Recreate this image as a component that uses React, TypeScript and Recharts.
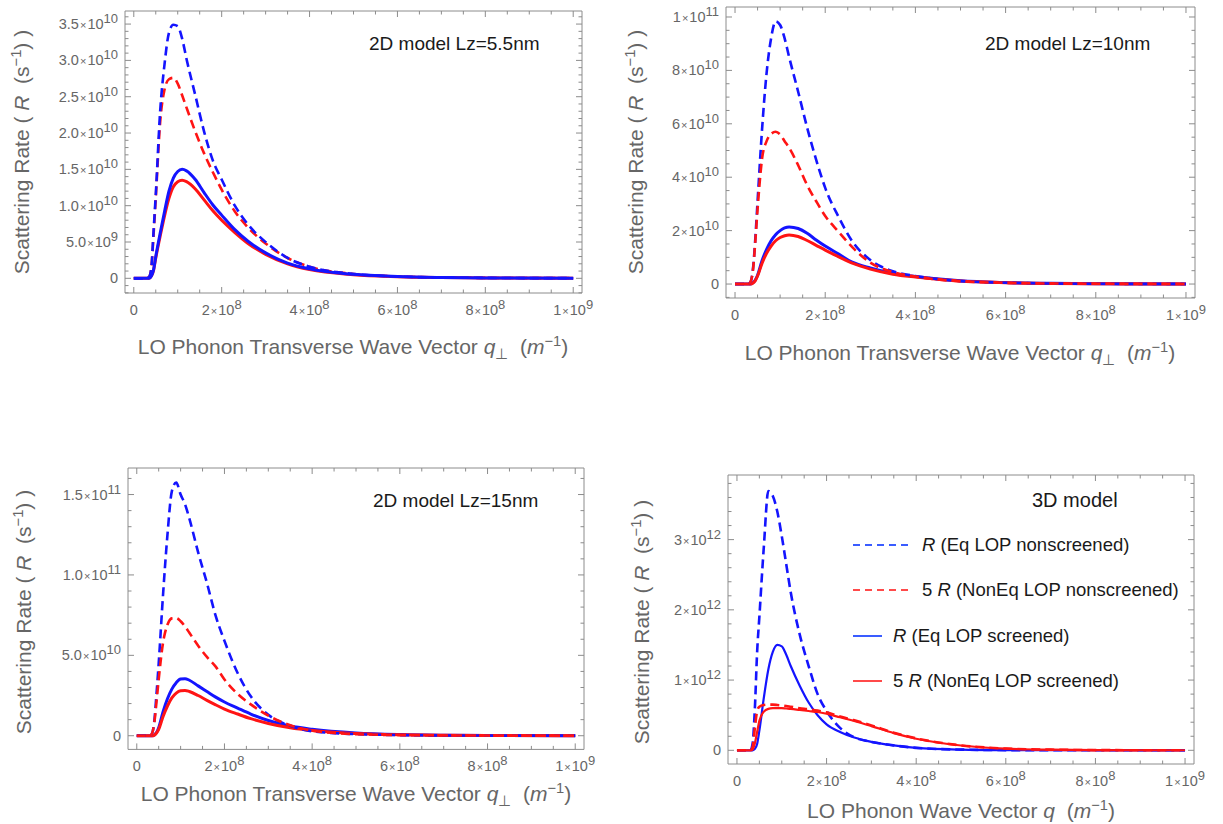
import React from "react";
import { LineChart, Line, XAxis, YAxis, Legend } from "recharts";

// wave vector grid, in units of 1e8 m^-1
const q = [0, 0.3, 0.35, 0.4, 0.45, 0.5, 0.6, 0.7, 0.8, 0.9, 1.0, 1.1, 1.2, 1.4, 1.6, 1.8, 2.0, 2.3, 2.6, 3.0, 3.5, 4.0, 5.0, 6.0, 7.0, 8.0, 10.0];

// 2D model Lz=5.5nm (x 1e10 s^-1)
const bd1 = [0, 0, 0.02, 0.15, 0.65, 1.15, 2.3, 2.95, 3.38, 3.49, 3.47, 3.3, 3.02, 2.52, 2.02, 1.62, 1.36, 1.0, 0.74, 0.5, 0.28, 0.16, 0.06, 0.025, 0.012, 0.006, 0.002];
const rd1 = [0, 0, 0.02, 0.15, 0.6, 1.1, 2.15, 2.6, 2.74, 2.76, 2.68, 2.52, 2.35, 2.02, 1.72, 1.46, 1.22, 0.92, 0.7, 0.48, 0.28, 0.16, 0.06, 0.025, 0.012, 0.006, 0.002];
const bs1 = [0, 0, 0, 0.03, 0.12, 0.3, 0.62, 0.92, 1.2, 1.38, 1.47, 1.5, 1.48, 1.36, 1.18, 1.01, 0.87, 0.67, 0.51, 0.35, 0.21, 0.13, 0.055, 0.025, 0.012, 0.006, 0.002];
const rs1 = [0, 0, 0, 0.03, 0.11, 0.28, 0.58, 0.86, 1.1, 1.26, 1.33, 1.35, 1.33, 1.23, 1.08, 0.93, 0.8, 0.63, 0.48, 0.33, 0.2, 0.12, 0.05, 0.023, 0.011, 0.005, 0.002];

// 2D model Lz=10nm (x 1e10 s^-1)
const bd2 = [0, 0, 0.1, 0.6, 1.7, 3.1, 5.8, 7.9, 9.2, 9.84, 9.7, 9.2, 8.5, 7.2, 5.85, 4.65, 3.6, 2.5, 1.6, 0.9, 0.48, 0.3, 0.11, 0.05, 0.02, 0.01, 0.004];
const rd2 = [0, 0, 0.1, 0.55, 1.6, 2.8, 4.7, 5.35, 5.62, 5.7, 5.6, 5.35, 5.1, 4.45, 3.7, 3.1, 2.55, 1.95, 1.38, 0.8, 0.45, 0.28, 0.1, 0.045, 0.02, 0.01, 0.004];
const bs2 = [0, 0, 0, 0.05, 0.15, 0.33, 0.88, 1.3, 1.62, 1.85, 2.0, 2.1, 2.14, 2.08, 1.9, 1.65, 1.42, 1.12, 0.82, 0.6, 0.4, 0.28, 0.12, 0.055, 0.025, 0.012, 0.004];
const rs2 = [0, 0, 0, 0.04, 0.13, 0.3, 0.78, 1.15, 1.42, 1.62, 1.74, 1.81, 1.84, 1.78, 1.63, 1.45, 1.27, 1.02, 0.78, 0.56, 0.37, 0.26, 0.11, 0.05, 0.023, 0.011, 0.004];

// 2D model Lz=15nm (x 1e10 s^-1)
const bd3 = [0, 0, 0.15, 0.9, 2.6, 4.5, 8.8, 12.5, 15.2, 15.75, 15.0, 14.4, 13.5, 11.4, 9.5, 7.45, 5.9, 3.9, 2.45, 1.3, 0.62, 0.28, 0.1, 0.04, 0.02, 0.01, 0.004];
const rd3 = [0, 0, 0.15, 0.8, 2.1, 3.5, 5.8, 6.9, 7.3, 7.32, 7.12, 6.8, 6.4, 5.6, 4.9, 4.3, 3.5, 2.6, 1.95, 1.25, 0.65, 0.32, 0.1, 0.04, 0.02, 0.01, 0.004];
const bs3 = [0, 0, 0, 0.05, 0.2, 0.5, 1.5, 2.3, 2.9, 3.3, 3.53, 3.55, 3.45, 3.1, 2.75, 2.4, 2.1, 1.72, 1.35, 0.95, 0.6, 0.4, 0.17, 0.07, 0.03, 0.015, 0.005];
const rs3 = [0, 0, 0, 0.04, 0.17, 0.4, 1.2, 1.85, 2.35, 2.65, 2.8, 2.82, 2.75, 2.5, 2.2, 1.92, 1.66, 1.35, 1.06, 0.76, 0.49, 0.32, 0.14, 0.06, 0.027, 0.013, 0.004];

// 3D model (x 1e11 s^-1)
const bd4 = [0, 0, 1, 6, 14, 19, 29, 36.9, 36.2, 34, 30.5, 26.5, 22.5, 16.5, 12, 8.0, 5.6, 3.2, 1.9, 1.2, 0.7, 0.35, 0.1, 0.03, 0.01, 0.005, 0.002];
const rd4 = [0, 0, 0.5, 3.2, 5.6, 6.2, 6.45, 6.5, 6.5, 6.45, 6.38, 6.3, 6.2, 6.0, 5.85, 5.65, 5.4, 4.8, 4.3, 3.55, 2.5, 1.7, 0.7, 0.25, 0.09, 0.03, 0.005];
const bs4 = [0, 0, 0, 0.2, 0.9, 2.8, 7.5, 11.5, 14.0, 15.0, 14.8, 13.6, 12.0, 9.2, 6.8, 5.0, 3.7, 2.6, 1.85, 1.2, 0.7, 0.35, 0.1, 0.03, 0.01, 0.005, 0.002];
const rs4 = [0, 0, 0.1, 1.0, 2.6, 4.2, 5.5, 5.9, 6.0, 6.02, 6.0, 5.95, 5.9, 5.75, 5.6, 5.45, 5.2, 4.7, 4.2, 3.45, 2.45, 1.65, 0.68, 0.24, 0.09, 0.03, 0.005];

const xTicks = [0, 2e8, 4e8, 6e8, 8e8, 1e9];
const xLabels = ["0", "2×10^8", "4×10^8", "6×10^8", "8×10^8", "1×10^9"];

const y1Ticks = [0, 5e9, 1e10, 1.5e10, 2e10, 2.5e10, 3e10, 3.5e10];
const y1Labels = ["0", "5.0×10^9", "1.0×10^10", "1.5×10^10", "2.0×10^10", "2.5×10^10", "3.0×10^10", "3.5×10^10"];
const y2Ticks = [0, 2e10, 4e10, 6e10, 8e10, 1e11];
const y2Labels = ["0", "2×10^10", "4×10^10", "6×10^10", "8×10^10", "1×10^11"];
const y3Ticks = [0, 5e10, 1e11, 1.5e11];
const y3Labels = ["0", "5.0×10^10", "1.0×10^11", "1.5×10^11"];
const y4Ticks = [0, 1e12, 2e12, 3e12];
const y4Labels = ["0", "1×10^12", "2×10^12", "3×10^12"];

const legendNames = ["R (Eq LOP nonscreened)", "5 R (NonEq LOP nonscreened)", "R (Eq LOP screened)", "5 R (NonEq LOP screened)"];

const FONT = '"Liberation Sans", Arial, Helvetica, sans-serif';
const GRAY = "#666666";
const FRAME = "#8c8c8c";
const BLUE = "#1414ff";
const RED = "#ff1414";
const X_DOMAIN = [-2e7, 1.02e9];

const seriesStyle: Record<string, { color: string; dashed: boolean }> = {
  bd: { color: BLUE, dashed: true },
  rd: { color: RED, dashed: true },
  bs: { color: BLUE, dashed: false },
  rs: { color: RED, dashed: false },
};

const legendStyle = [
  { color: "#3a5cff", dashed: true },
  { color: "#ff4a4a", dashed: true },
  { color: "#3a5cff", dashed: false },
  { color: "#ff4a4a", dashed: false },
];

const buildRows = (unit: number, bd: number[], rd: number[], bs: number[], rs: number[]) =>
  q.map((v, i) => ({ q: v * 1e8, bd: bd[i] * unit, rd: rd[i] * unit, bs: bs[i] * unit, rs: rs[i] * unit }));

// all tick positions (major + minor) inside the frame
const allTicks = (step: number, lo: number, hi: number) => {
  const out: number[] = [];
  for (let k = Math.ceil(lo / step); k <= Math.floor(hi / step); k++) out.push(k * step);
  return out;
};

const SciText = ({ x, y, anchor, label }: any) => {
  const m = label.match(/^(.+)×(\d+)\^(\d+)$/);
  const common = { x, y, textAnchor: anchor, fill: GRAY, fontSize: 14.5, fontFamily: FONT };
  if (!m) return <text {...common}>{label}</text>;
  return (
    <text {...common}>
      <tspan>{m[1]}</tspan>
      <tspan fontSize={11} dx={1}>×</tspan>
      <tspan dx={1}>{m[2]}</tspan>
      <tspan fontSize={13} dy={-6}>{m[3]}</tspan>
    </text>
  );
};

const tickRenderer = (side: string, majors: number[], labels: string[] | null, step: number) => (props: any) => {
  const { x, y, payload } = props;
  const v = payload.value;
  const idx = majors.findIndex((m) => Math.abs(m - v) < step * 0.01);
  const len = idx >= 0 ? 6 : 3.5;
  let x2 = x;
  let y2 = y;
  if (side === "left") x2 = x + len;
  if (side === "right") x2 = x - len;
  if (side === "bottom") y2 = y - len;
  if (side === "top") y2 = y + len;
  return (
    <g>
      <line x1={x} y1={y} x2={x2} y2={y2} stroke={FRAME} strokeWidth={1} />
      {labels && idx >= 0 && side === "left" && <SciText x={x - 7} y={y + 5} anchor="end" label={labels[idx]} />}
      {labels && idx >= 0 && side === "bottom" && <SciText x={x} y={y + 22} anchor="middle" label={labels[idx]} />}
    </g>
  );
};

const LegendBox = () => (
  <div style={{ fontFamily: FONT, fontSize: 18.5, color: "#1a1a1a" }}>
    {legendNames.map((name, i) => {
      const st = legendStyle[i];
      const lineW = st.dashed ? 55 : 29;
      const parts = name.split(/\bR\b/);
      return (
        <div key={name} style={{ height: 45.5, display: "flex", alignItems: "center", whiteSpace: "nowrap" }}>
          <svg width={lineW} height={4} style={{ marginRight: st.dashed ? 14 : 11 }}>
            <line x1={0} y1={2} x2={lineW} y2={2} stroke={st.color} strokeWidth={2} strokeDasharray={st.dashed ? "7 5" : undefined} />
          </svg>
          <span>
            {parts[0]}
            <i>R</i>
            {parts[1]}
          </span>
        </div>
      );
    })}
  </div>
);

const transverseTitle = (
  <>
    LO Phonon Transverse Wave Vector <i>q</i>
    <span style={{ fontSize: "0.7em", position: "relative", top: "0.35em" }}>⊥</span>
    {"\u00a0\u00a0"}(<i>m</i>
    <span style={{ fontSize: "0.7em", position: "relative", top: "-0.55em" }}>−1</span>)
  </>
);
const waveTitle = (
  <>
    LO Phonon Wave Vector <i>q</i>
    {"\u00a0\u00a0"}(<i>m</i>
    <span style={{ fontSize: "0.7em", position: "relative", top: "-0.55em" }}>−1</span>)
  </>
);
const rateTitle = (
  <>
    Scattering Rate ( <i>R</i>
    {"\u00a0\u00a0"}(s<span style={{ fontSize: "0.7em", position: "relative", top: "-0.55em" }}>−1</span>) )
  </>
);

type PanelProps = {
  left: number;
  top: number;
  width: number;
  height: number;
  leftW: number;
  rightW: number;
  topH: number;
  bottomH: number;
  data: any[];
  yDomain: number[];
  yTicks: number[];
  yLabels: string[];
  yStep: number;
  order: string[];
  solidW: number;
  dashW: number;
  note: string;
  noteX: number;
  noteY: number;
  noteSize: number;
  xTitle: React.ReactNode;
  xTitleX: number;
  xTitleY: number;
  yTitleX: number;
  yTitleY: number;
  legend?: boolean;
};

const Panel = (p: PanelProps) => {
  const xAll = allTicks(5e7, X_DOMAIN[0], X_DOMAIN[1]);
  const yAll = allTicks(p.yStep, p.yDomain[0], p.yDomain[1]);
  const axisCommon = { tickSize: 0, tickMargin: 0, tickLine: false, interval: 0 as const, allowDataOverflow: true, axisLine: { stroke: FRAME } };
  return (
    <div style={{ position: "absolute", left: p.left, top: p.top, width: p.width, height: p.height }}>
      <LineChart width={p.width} height={p.height} data={p.data} margin={{ top: 0, right: 0, bottom: 0, left: 0 }}>
        <XAxis dataKey="q" type="number" domain={X_DOMAIN} ticks={xAll} height={p.bottomH} tick={tickRenderer("bottom", xTicks, xLabels, 5e7)} {...axisCommon} />
        <XAxis xAxisId="t" orientation="top" dataKey="q" type="number" domain={X_DOMAIN} ticks={xAll} height={p.topH} tick={tickRenderer("top", xTicks, null, 5e7)} {...axisCommon} />
        <YAxis type="number" domain={p.yDomain} ticks={yAll} width={p.leftW} tick={tickRenderer("left", p.yTicks, p.yLabels, p.yStep)} {...axisCommon} />
        <YAxis yAxisId="r" orientation="right" type="number" domain={p.yDomain} ticks={yAll} width={p.rightW} tick={tickRenderer("right", p.yTicks, null, p.yStep)} {...axisCommon} />
        {p.order.map((k) => (
          <Line
            key={k}
            dataKey={k}
            type="monotone"
            stroke={seriesStyle[k].color}
            strokeWidth={seriesStyle[k].dashed ? p.dashW : p.solidW}
            strokeDasharray={seriesStyle[k].dashed ? "9 5" : undefined}
            dot={false}
            activeDot={false}
            isAnimationActive={false}
          />
        ))}
        {p.legend && (
          <Legend
            layout="vertical"
            align="center"
            verticalAlign="middle"
            content={() => <LegendBox />}
            wrapperStyle={{ left: 243, top: 62, width: 360, height: 182 }}
          />
        )}
      </LineChart>
      <div style={{ position: "absolute", left: p.noteX, top: p.noteY, transform: "translateY(-50%)", fontFamily: FONT, fontSize: p.noteSize, color: "#1a1a1a", whiteSpace: "nowrap", lineHeight: 1 }}>
        {p.note}
      </div>
      <div style={{ position: "absolute", left: p.xTitleX, top: p.xTitleY, transform: "translate(-50%, -50%)", fontFamily: FONT, fontSize: 21, color: GRAY, whiteSpace: "nowrap", lineHeight: 1 }}>
        {p.xTitle}
      </div>
      <div style={{ position: "absolute", left: p.yTitleX, top: p.yTitleY, transform: "translate(-50%, -50%) rotate(-90deg)", fontFamily: FONT, fontSize: 21, color: GRAY, whiteSpace: "nowrap", lineHeight: 1 }}>
        {rateTitle}
      </div>
    </div>
  );
};

const App = () => {
  return (
    <div style={{ position: "absolute", left: 0, top: 0, width: 1223, height: 824, background: "#fff", overflow: "hidden" }}>
      <Panel
        left={0} top={0} width={600} height={360}
        leftW={125} rightW={18} topH={11} bottomH={67}
        data={buildRows(1e10, bd1, rd1, bs1, rs1)}
        yDomain={[-2.02e9, 3.68e10]} yTicks={y1Ticks} yLabels={y1Labels} yStep={1e9}
        order={["rd", "rs", "bd", "bs"]} solidW={3} dashW={2.6}
        note="2D model Lz=5.5nm" noteX={369} noteY={43} noteSize={19}
        xTitle={transverseTitle} xTitleX={353} xTitleY={346}
        yTitleX={21} yTitleY={152}
      />
      <Panel
        left={610} top={0} width={613} height={360}
        leftW={116} rightW={28} topH={7} bottomH={62}
        data={buildRows(1e10, bd2, rd2, bs2, rs2)}
        yDomain={[-5.23e9, 1.0374e11]} yTicks={y2Ticks} yLabels={y2Labels} yStep={5e9}
        order={["bs", "rs", "bd", "rd"]} solidW={3} dashW={2.6}
        note="2D model Lz=10nm" noteX={375} noteY={43} noteSize={19}
        xTitle={transverseTitle} xTitleX={350} xTitleY={352}
        yTitleX={25} yTitleY={152}
      />
      <Panel
        left={0} top={460} width={600} height={364}
        leftW={128} rightW={16} topH={8} bottomH={74.6}
        data={buildRows(1e10, bd3, rd3, bs3, rs3)}
        yDomain={[-8.5e9, 1.665e11]} yTicks={y3Ticks} yLabels={y3Labels} yStep={1e10}
        order={["bs", "rs", "bd", "rd"]} solidW={3} dashW={2.6}
        note="2D model Lz=15nm" noteX={373} noteY={40} noteSize={19}
        xTitle={transverseTitle} xTitleX={356} xTitleY={333}
        yTitleX={23} yTitleY={152}
      />
      <Panel
        left={610} top={460} width={613} height={364}
        leftW={118} rightW={29} topH={15} bottomH={60}
        data={buildRows(1e11, bd4, rd4, bs4, rs4)}
        yDomain={[-1.95e11, 3.92e12]} yTicks={y4Ticks} yLabels={y4Labels} yStep={2e11}
        order={["bd", "bs", "rd", "rs"]} solidW={2.2} dashW={2.6}
        note="3D model" noteX={422} noteY={40} noteSize={20}
        xTitle={waveTitle} xTitleX={351} xTitleY={350}
        yTitleX={31} yTitleY={162}
        legend
      />
    </div>
  );
};

export default App;
